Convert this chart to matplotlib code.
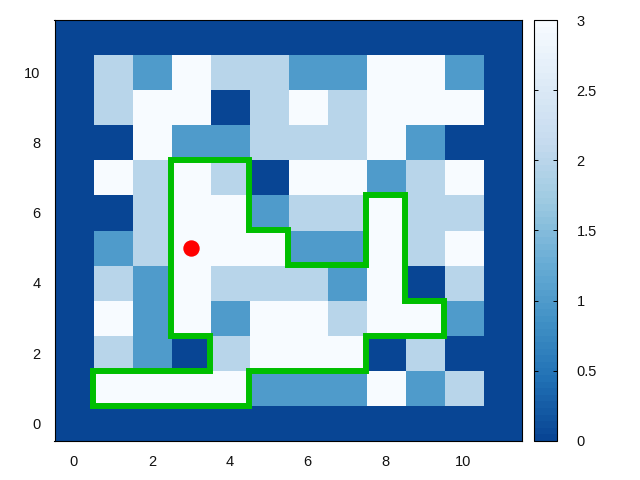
import matplotlib
matplotlib.use('Agg')
import matplotlib.pyplot as plt
from matplotlib.colors import LinearSegmentedColormap

# grid values, top row first
grid = [
    [0, 0, 0, 0, 0, 0, 0, 0, 0, 0, 0, 0],
    [0, 2, 1, 3, 2, 2, 1, 1, 3, 3, 1, 0],
    [0, 2, 3, 3, 0, 2, 3, 2, 3, 3, 3, 0],
    [0, 0, 3, 1, 1, 2, 2, 2, 3, 1, 0, 0],
    [0, 3, 2, 3, 2, 0, 3, 3, 1, 2, 3, 0],
    [0, 0, 2, 3, 3, 1, 2, 2, 3, 2, 2, 0],
    [0, 1, 2, 3, 3, 3, 1, 1, 3, 2, 3, 0],
    [0, 2, 1, 3, 2, 2, 2, 1, 3, 0, 2, 0],
    [0, 3, 1, 3, 1, 3, 3, 2, 3, 3, 1, 0],
    [0, 2, 1, 0, 2, 3, 3, 3, 0, 2, 0, 0],
    [0, 3, 3, 3, 3, 1, 1, 1, 3, 1, 2, 0],
    [0, 0, 0, 0, 0, 0, 0, 0, 0, 0, 0, 0],
]
grid = grid[::-1]

path_x = [0.5, 4.5, 4.5, 7.5, 7.5, 9.5, 9.5, 8.5, 8.5, 7.5, 7.5, 5.5, 5.5, 4.5, 4.5, 2.5, 2.5, 3.5, 3.5, 0.5, 0.5]
path_y = [0.5, 0.5, 1.5, 1.5, 2.5, 2.5, 3.5, 3.5, 6.5, 6.5, 4.5, 4.5, 5.5, 5.5, 7.5, 7.5, 2.5, 2.5, 1.5, 1.5, 0.5]
point_x = [3]
point_y = [5]

xticks = [0, 2, 4, 6, 8, 10]
yticks = [0, 2, 4, 6, 8, 10]
cbar_ticks = [0, 0.5, 1, 1.5, 2, 2.5, 3]
cbar_labels = ['0', '0.5', '1', '1.5', '2', '2.5', '3']

plt.rcParams['font.family'] = 'Liberation Sans'
plt.rcParams['font.size'] = 10.5

blues = ['#084594', '#2171B5', '#4292C6', '#6BAED6', '#9ECAE1', '#C6DBEF', '#DEEBF7', '#F7FBFF']
cmap = LinearSegmentedColormap.from_list('blues_gp', blues, N=64)

W, H = 640.0, 480.0
fig = plt.figure(figsize=(6.4, 4.8), dpi=100)
ax = fig.add_axes([54.5 / W, 1 - 440.8 / H, (522 - 54.5) / W, (440.8 - 20) / H])
im = ax.imshow(grid, origin='lower', cmap=cmap, vmin=0, vmax=3, aspect='auto',
               interpolation='nearest', extent=(-0.5, 11.5, -0.5, 11.5))
ax.plot(path_x, path_y, color='#00BF00', lw=4.3, solid_joinstyle='miter', solid_capstyle='projecting')
ax.plot(point_x, point_y, 'o', color='#FF0000', ms=11.8, mew=0)
ax.set_xticks(xticks)
ax.set_yticks(yticks)
ax.tick_params(length=0, pad=10, labelcolor='#111111')
for s in ax.spines.values():
    s.set_linewidth(0.8)

cax = fig.add_axes([534 / W, 1 - 440.8 / H, 23 / W, (440.8 - 20) / H])
cbar = fig.colorbar(im, cax=cax)
cbar.set_ticks(cbar_ticks)
cbar.set_ticklabels(cbar_labels)
cbar.ax.tick_params(direction='in', left=True, right=True, length=3.2, width=0.7, pad=14, labelcolor='#111111')
cbar.outline.set_linewidth(0.8)

plt.savefig('out.png', dpi=100)
